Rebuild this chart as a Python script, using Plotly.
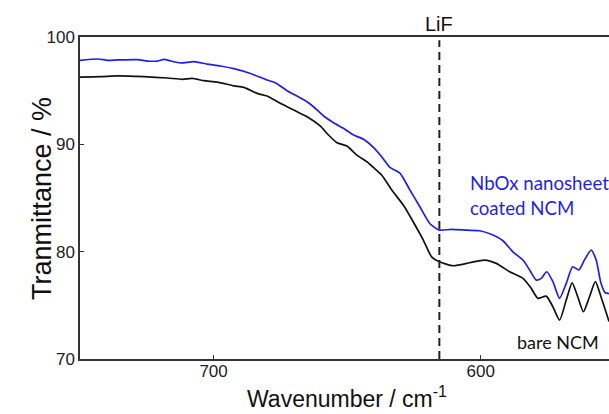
import plotly.graph_objects as go

# Wavenumber (cm^-1) and transmittance (%)
wn_coated = [750, 743.4, 739.7, 735.9, 728.5, 724.7, 721, 718.5, 716, 712.3, 707.4, 702.4,
             697.4, 692.4, 686.2, 680, 676.9, 672.5, 668.8, 665, 662.6, 658.8, 655.1, 651.4,
             647.6, 643.9, 640.2, 637.1, 634, 630.2, 626.5, 622.8, 619, 615.5, 611, 605,
             600.4, 595.4, 591.7, 588, 584.2, 581.7, 579.2, 577.4, 575.3, 573, 570.5, 568,
             565.6, 563.3, 561.2, 558.7, 556.8, 555, 553.4, 552]
t_coated = [97.83, 97.95, 97.83, 97.86, 97.89, 97.76, 97.76, 97.92, 97.76, 97.58, 97.7, 97.48,
            97.3, 97.05, 96.6, 95.99, 95.74, 95.0, 94.5, 93.97, 93.5, 92.64, 92.01, 91.49,
            90.87, 90.47, 89.72, 88.85, 87.85, 87.3, 85.74, 84.18, 82.6, 82.01, 82.08, 82.0,
            81.95, 81.55, 81.02, 79.99, 79.22, 78.29, 77.35, 77.51, 78.13, 77.2, 75.65, 77.05,
            78.59, 78.29, 79.22, 80.15, 79.22, 77.05, 76.17, 76.1]

wn_bare = [750, 742.2, 735.9, 726, 717.3, 711.7, 708, 703.6, 698.6, 692.4, 688.7, 683.7,
           680, 675, 670, 665, 660.1, 657, 653.8, 650.1, 646.4, 642.6, 640.2, 637.1,
           633.3, 629, 625.3, 621.5, 618.4, 615.5, 610.3, 604.1, 598.5, 594.2, 589.2, 584.2,
           581.1, 578.6, 575.5, 573, 570.5, 568, 565.8, 563.7, 561.6, 559.3, 557.1, 555, 552]
t_bare = [96.27, 96.3, 96.37, 96.3, 96.18, 96.06, 96.15, 95.93, 95.8, 95.45, 95.31, 94.75,
          94.5, 93.82, 93.2, 92.57, 91.71, 90.87, 90.15, 89.84, 89.0, 88.38, 87.85, 87.14,
          85.74, 84.34, 82.79, 81.08, 79.52, 79.06, 78.69, 78.97, 79.22, 78.91, 78.13, 77.51,
          76.58, 75.65, 75.86, 74.86, 73.63, 75.49, 77.1, 75.8, 74.4, 75.8, 77.2, 75.8, 73.5]

x_ticks = [700, 600]
y_ticks = [70, 80, 90, 100]
lif_position = 615.5

fig = go.Figure()
fig.add_trace(go.Scatter(x=wn_bare, y=t_bare, mode="lines",
                         line=dict(color="#111111", width=1.7, shape="spline", smoothing=0.6),
                         showlegend=False))
fig.add_trace(go.Scatter(x=wn_coated, y=t_coated, mode="lines",
                         line=dict(color="#1f1fe6", width=1.7, shape="spline", smoothing=0.6),
                         showlegend=False))

fig.add_shape(type="line", x0=lif_position, x1=lif_position, y0=0, y1=0.99,
              xref="x", yref="paper",
              line=dict(color="#222222", width=2, dash="8px,5px"))

fig.add_annotation(x=lif_position, y=1, xref="x", yref="paper", text="LiF",
                   yanchor="middle", yshift=13, showarrow=False,
                   font=dict(family="Arial", size=20, color="#111111"))
fig.add_annotation(x=0.7335, y=(359 - 183) / 322, xref="paper", yref="paper",
                   text="NbOx nanosheet", xanchor="left", yanchor="middle", showarrow=False,
                   font=dict(family="Lato", size=18.7, color="#1f1fe6"))
fig.add_annotation(x=0.7335, y=(359 - 208) / 322, xref="paper", yref="paper",
                   text="coated NCM", xanchor="left", yanchor="middle", showarrow=False,
                   font=dict(family="Lato", size=18.7, color="#1f1fe6"))
fig.add_annotation(x=0.822, y=(359 - 342) / 322, xref="paper", yref="paper",
                   text="bare NCM", xanchor="left", yanchor="middle", showarrow=False,
                   font=dict(family="Lato", size=18, color="#111111"))

# axis titles
fig.add_annotation(x=-0.104, y=0.5, xref="paper", yref="paper",
                   text="Tranmittance / %", textangle=-90, showarrow=False,
                   font=dict(family="Arial", size=27, color="#111111"))
fig.add_annotation(x=0.505, y=(359 - 397) / 322, xref="paper", yref="paper",
                   text="Wavenumber / cm<sup>-1</sup>", yanchor="middle", showarrow=False,
                   font=dict(family="Arial", size=23, color="#111111"))

fig.update_layout(
    width=609, height=414,
    margin=dict(l=80, r=0, t=37, b=55),
    paper_bgcolor="white", plot_bgcolor="white",
    xaxis=dict(range=[750, 552], tickvals=x_ticks, ticks="inside", ticklen=4,
               showline=True, mirror=True, linecolor="#333333", linewidth=1.5,
               tickcolor="#333333", showgrid=False, zeroline=False,
               tickfont=dict(family="Arial", size=17, color="#222222")),
    yaxis=dict(range=[70, 100], tickvals=y_ticks, ticks="inside", ticklen=4,
               showline=True, mirror=False, linecolor="#333333", linewidth=1.5,
               tickcolor="#333333", showgrid=False, zeroline=False,
               tickfont=dict(family="Arial", size=17, color="#222222")),
)
try:
    fig.update_xaxes(ticklabelstandoff=-4)
except Exception:
    pass

fig.write_html("out.html", config={"displayModeBar": False},
               post_script="document.body.style.margin='0';document.body.style.overflow='hidden';")
